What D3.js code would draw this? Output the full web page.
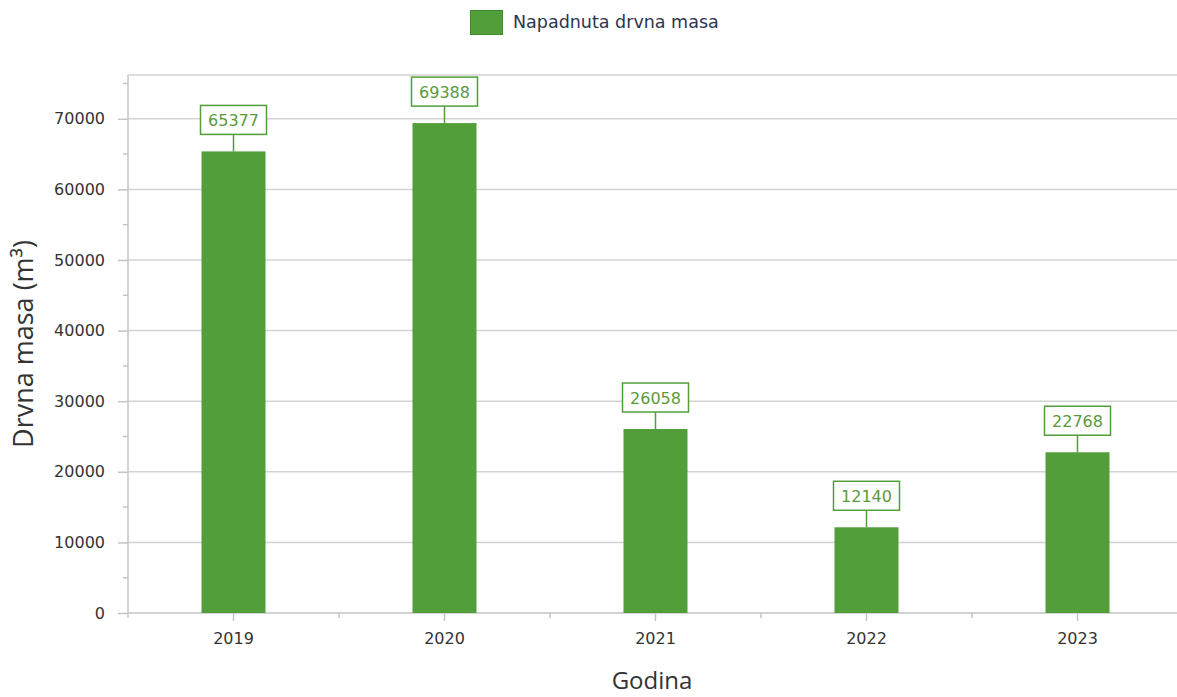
<!DOCTYPE html>
<html>
<head>
<meta charset="utf-8">
<script src="https://cdn.jsdelivr.net/npm/d3@7"></script>
<style>
  body { margin: 0; background: #fff; }
  svg text { font-family: "DejaVu Sans", sans-serif; }
</style>
</head>
<body>
<div id="chart"></div>
<script>
const years = ["2019", "2020", "2021", "2022", "2023"];
const values = [65377, 69388, 26058, 12140, 22768];
const yTicks = [0, 10000, 20000, 30000, 40000, 50000, 60000, 70000];
const seriesName = "Napadnuta drvna masa";

const width = 1177;
const height = 697;
const green = "#529e3a";

const plotLeft = 128, plotRight = 1183, plotTop = 75, plotBottom = 613;

var svg = d3.select("#chart")
	.append("svg")
	.attr("width", width)
	.attr("height", height);

var x = d3.scaleBand()
	.domain(years)
	.range([plotLeft, plotRight]);

var y = d3.scaleLinear()
	.domain([0, 76200])
	.range([plotBottom, plotTop]);

// gridlines
svg.selectAll("line.grid")
	.data(yTicks.filter(d => d > 0))
	.enter()
	.append("line")
	.attr("class", "grid")
	.attr("x1", plotLeft).attr("x2", width)
	.attr("y1", d => y(d)).attr("y2", d => y(d))
	.attr("stroke", "#d3d3d3")
	.attr("stroke-width", 1.5);

// plot top border
svg.append("line")
	.attr("x1", plotLeft).attr("x2", width)
	.attr("y1", plotTop).attr("y2", plotTop)
	.attr("stroke", "#d3d3d3")
	.attr("stroke-width", 1.5);

// y axis with minor ticks
var minor = d3.range(5000, 76000, 10000);
svg.selectAll("line.minor")
	.data(minor)
	.enter()
	.append("line")
	.attr("x1", plotLeft - 5).attr("x2", plotLeft)
	.attr("y1", d => y(d)).attr("y2", d => y(d))
	.attr("stroke", "#c4c4c4")
	.attr("stroke-width", 1.5);

var yAxis = svg.append("g")
	.attr("transform", `translate(${plotLeft},0)`)
	.call(d3.axisLeft(y).tickValues(yTicks).tickFormat(d3.format("d"))
		.tickSize(10).tickPadding(13).tickSizeOuter(0));
yAxis.select(".domain").attr("stroke", "#c4c4c4").attr("stroke-width", 1.5)
	.attr("d", `M0,${plotTop}V${plotBottom}`);
yAxis.selectAll(".tick line").attr("stroke", "#c4c4c4").attr("stroke-width", 1.5);
yAxis.selectAll(".tick text")
	.attr("fill", "#333")
	.style("font-size", "16px");

// x axis
var xAxis = svg.append("g")
	.attr("transform", `translate(0,${plotBottom})`)
	.call(d3.axisBottom(x).tickSize(0).tickPadding(20));
xAxis.select(".domain").attr("stroke", "#c4c4c4").attr("stroke-width", 1.5)
	.attr("d", `M${plotLeft},0H${width}`);
xAxis.selectAll(".tick text")
	.attr("fill", "#333")
	.style("font-size", "16px");

// x ticks at category boundaries and centers
svg.selectAll("line.xb")
	.data(years)
	.enter()
	.append("line")
	.attr("x1", d => x(d)).attr("x2", d => x(d))
	.attr("y1", plotBottom).attr("y2", plotBottom + 5)
	.attr("stroke", "#c4c4c4").attr("stroke-width", 1.5);
svg.selectAll("line.xc")
	.data(years)
	.enter()
	.append("line")
	.attr("x1", d => x(d) + x.bandwidth() / 2).attr("x2", d => x(d) + x.bandwidth() / 2)
	.attr("y1", plotBottom).attr("y2", plotBottom + 8)
	.attr("stroke", "#c4c4c4").attr("stroke-width", 1.5);

// bars
const barW = 64;
svg.selectAll("rect.bar")
	.data(values)
	.enter()
	.append("rect")
	.attr("class", "bar")
	.attr("x", (d, i) => x(years[i]) + x.bandwidth() / 2 - barW / 2)
	.attr("y", d => y(d))
	.attr("width", barW)
	.attr("height", d => plotBottom - y(d))
	.attr("fill", green);

// value labels
var lab = svg.selectAll("g.lab")
	.data(values)
	.enter()
	.append("g")
	.attr("transform", (d, i) => `translate(${x(years[i]) + x.bandwidth() / 2},${y(d)})`);
lab.append("line")
	.attr("x1", 0).attr("x2", 0)
	.attr("y1", 0).attr("y2", -17)
	.attr("stroke", green).attr("stroke-width", 1.5);
lab.append("rect")
	.attr("x", -33).attr("y", -46)
	.attr("width", 66).attr("height", 29)
	.attr("fill", "#fff")
	.attr("stroke", green).attr("stroke-width", 1.5);
lab.append("text")
	.attr("x", 0).attr("y", -25.5)
	.attr("text-anchor", "middle")
	.attr("fill", "#5a9a3c")
	.style("font-size", "16px")
	.text(d => d);

// axis titles
svg.append("text")
	.attr("transform", "translate(33,344) rotate(-90)")
	.attr("text-anchor", "middle")
	.attr("fill", "#333")
	.style("font-family", "'Open Sans', sans-serif")
	.style("font-size", "27px")
	.text("Drvna masa (m³)");

svg.append("text")
	.attr("x", 652).attr("y", 689)
	.attr("text-anchor", "middle")
	.attr("fill", "#333")
	.style("font-family", "'Open Sans', sans-serif")
	.style("font-size", "24px")
	.text("Godina");

// legend
svg.append("rect")
	.attr("x", 470.5).attr("y", 10.5)
	.attr("width", 32).attr("height", 24)
	.attr("fill", green)
	.attr("stroke", "#3f8a2c");
svg.append("text")
	.attr("x", 513).attr("y", 28)
	.attr("fill", "#2a3550")
	.style("font-size", "17.5px")
	.text(seriesName);
</script>
</body>
</html>
